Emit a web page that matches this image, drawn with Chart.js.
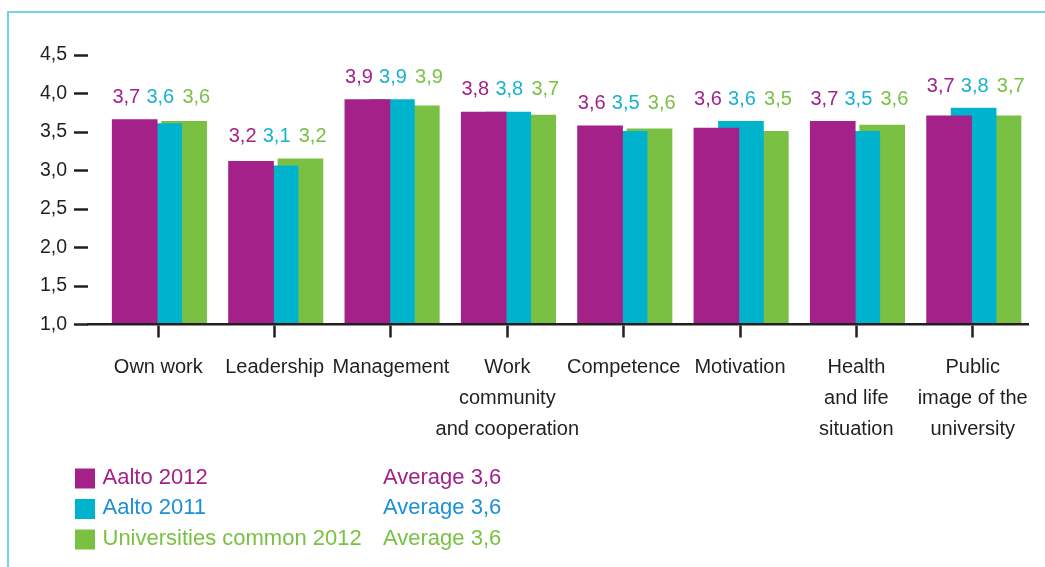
<!DOCTYPE html>
<html>
<head>
<meta charset="utf-8">
<script src="https://cdn.jsdelivr.net/npm/chart.js@4.4.1/dist/chart.umd.min.js"></script>
<style>
html,body{margin:0;padding:0;background:#fff;overflow:hidden}
#wrap{position:relative;width:1045px;height:567px}
canvas{display:block}
</style>
</head>
<body>
<div id="wrap"><canvas id="c" width="1045" height="567"></canvas></div>
<script>
// ---- data ----
const categories = [
  ['Own work'],
  ['Leadership'],
  ['Management'],
  ['Work', 'community', 'and cooperation'],
  ['Competence'],
  ['Motivation'],
  ['Health', 'and life', 'situation'],
  ['Public', 'image of the', 'university']
];
const seriesNames = ['Aalto 2012', 'Aalto 2011', 'Universities common 2012'];
const aalto2012 = [3.66, 3.12, 3.92, 3.76, 3.58, 3.55, 3.64, 3.71];
const aalto2011 = [3.61, 3.06, 3.92, 3.76, 3.51, 3.64, 3.51, 3.81];
const universities2012 = [3.64, 3.15, 3.84, 3.72, 3.54, 3.51, 3.59, 3.71];
const aalto2012Labels = ['3,7', '3,2', '3,9', '3,8', '3,6', '3,6', '3,7', '3,7'];
const aalto2011Labels = ['3,6', '3,1', '3,9', '3,8', '3,5', '3,6', '3,5', '3,8'];
const universities2012Labels = ['3,6', '3,2', '3,9', '3,7', '3,6', '3,5', '3,6', '3,7'];
const averages = ['3,6', '3,6', '3,6'];
const yTickLabels = ['1,0', '1,5', '2,0', '2,5', '3,0', '3,5', '4,0', '4,5'];

// ---- styles ----
const FONT = '"Liberation Sans", Arial, Helvetica, sans-serif';
const DARK = '#231f20';
const barColors = ['#a4218a', '#00b3cc', '#7ac143'];
const valueLabelColors = ['#a4218a', '#17b2d0', '#7ac143'];
const legendTextColors = ['#a4218a', '#1a90d6', '#7ac143'];
const seriesShift = [-0.203, 0.008, 0.222];
const labelDx = [-32, 2, 38];

const valueSets = [aalto2012, aalto2011, universities2012];
const labelSets = [aalto2012Labels, aalto2011Labels, universities2012Labels];

const datasets = valueSets.map((vals, k) => ({
  label: seriesNames[k],
  data: vals.map((v, i) => ({ x: i + seriesShift[k], y: v })),
  backgroundColor: barColors[k],
  borderWidth: 0,
  barThickness: 45,
  grouped: false
}));

const decorPlugin = {
  id: 'decor',
  beforeDraw(chart) {
    const ctx = chart.ctx;
    ctx.save();
    ctx.strokeStyle = '#74d3e3';
    ctx.lineWidth = 2;
    ctx.beginPath();
    ctx.moveTo(8, 567);
    ctx.lineTo(8, 12);
    ctx.lineTo(1045, 12);
    ctx.stroke();
    ctx.restore();
  },
  afterDatasetsDraw(chart) {
    const ctx = chart.ctx;
    const xs = chart.scales.x;
    ctx.save();
    ctx.font = '20px ' + FONT;
    ctx.textAlign = 'center';
    ctx.textBaseline = 'middle';
    categories.forEach((c, i) => {
      const tops = chart.data.datasets.map((d, k) => chart.getDatasetMeta(k).data[i].y);
      const minTop = Math.min(...tops);
      const cx = xs.getPixelForValue(i);
      labelSets.forEach((labels, k) => {
        ctx.fillStyle = valueLabelColors[k];
        ctx.fillText(labels[i], cx + labelDx[k], minTop - 22);
      });
    });
    ctx.restore();
  },
  afterDraw(chart) {
    const ctx = chart.ctx;
    ctx.save();
    ctx.font = '22px ' + FONT;
    ctx.textAlign = 'left';
    ctx.textBaseline = 'alphabetic';
    seriesNames.forEach((name, k) => {
      const top = 468.5 + k * 30.5;
      ctx.fillStyle = barColors[k];
      ctx.fillRect(75, top, 20, 20);
      ctx.fillStyle = legendTextColors[k];
      ctx.fillText(name, 102.5, top + 15);
      ctx.fillText('Average ' + averages[k], 383, top + 15);
    });
    ctx.restore();
  }
};

new Chart(document.getElementById('c'), {
  type: 'bar',
  data: { datasets },
  plugins: [decorPlugin],
  options: {
    responsive: false,
    animation: false,
    devicePixelRatio: 1,
    events: [],
    layout: { padding: { left: 0, top: 55, right: 17, bottom: 0 } },
    plugins: { legend: { display: false }, tooltip: { enabled: false } },
    scales: {
      x: {
        type: 'linear',
        z: 1,
        min: -0.6043,
        max: 7.4753,
        offset: false,
        afterBuildTicks: s => { s.ticks = categories.map((c, i) => ({ value: i })); },
        afterFit: s => { s.height = 567 - 324.5; },
        grid: {
          offset: false,
          z: 1,
          drawOnChartArea: false,
          drawTicks: true,
          tickLength: 13,
          tickWidth: 2.5,
          tickColor: DARK
        },
        border: { display: true, z: 2, color: DARK, width: 2.5 },
        ticks: {
          autoSkip: false,
          maxRotation: 0,
          minRotation: 0,
          padding: 14,
          color: DARK,
          font: { family: FONT, size: 20, lineHeight: 1.55 },
          callback: (v, i) => categories[i]
        }
      },
      y: {
        min: 1,
        max: 4.5,
        afterFit: s => { s.width = 88; },
        grid: {
          drawOnChartArea: false,
          drawTicks: true,
          tickLength: 14,
          tickWidth: 2.5,
          tickColor: DARK
        },
        border: { display: false },
        ticks: {
          stepSize: 0.5,
          padding: 7,
          color: DARK,
          font: { family: FONT, size: 19.5 },
          callback: (v, i) => yTickLabels[i]
        }
      }
    }
  }
});
</script>
</body>
</html>
